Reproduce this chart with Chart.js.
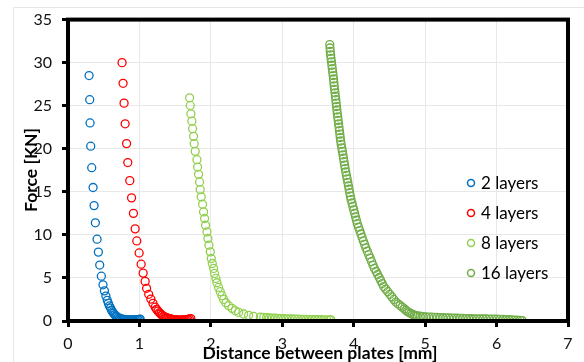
<!DOCTYPE html>
<html>
<head>
<meta charset="utf-8">
<script src="https://cdn.jsdelivr.net/npm/chart.js@4/dist/chart.umd.min.js"></script>
<style>
html,body{margin:0;padding:0;background:#fff;}
#wrap{position:relative;width:584px;height:362px;}
</style>
</head>
<body>
<div id="wrap"><canvas id="c" width="584" height="362"></canvas></div>
<script>
// ---- data ----
const seriesNames = ["2 layers", "4 layers", "8 layers", "16 layers"];
const seriesColors = ["#0070C0", "#FF0000", "#92D050", "#70AD47"];
const xTicks = [0, 1, 2, 3, 4, 5, 6, 7];
const yTicks = [0, 5, 10, 15, 20, 25, 30, 35];

const x2 = [0.295,0.304,0.309,0.318,0.332,0.351,0.365,0.383,0.407,0.425,0.444,0.467,0.49,0.51,0.53,0.55,0.565,0.58,0.595,0.61,0.625,0.64,0.655,0.67,0.685,0.70,0.72,0.74,0.76,0.78,0.80,0.82,0.84,0.86,0.88,0.90,0.92,0.94,0.96,0.98,1.00,1.01];
const y2 = [28.5,25.7,23.0,20.3,17.8,15.5,13.4,11.4,9.5,8.0,6.5,5.2,4.2,3.5,2.9,2.4,2.05,1.75,1.5,1.25,1.05,0.88,0.72,0.6,0.5,0.4,0.32,0.26,0.22,0.19,0.17,0.15,0.14,0.14,0.13,0.13,0.13,0.14,0.15,0.17,0.2,0.22];

const x4 = [0.757,0.771,0.785,0.80,0.82,0.837,0.865,0.89,0.916,0.94,0.963,0.996,1.024,1.052,1.08,1.10,1.13,1.16,1.19,1.22,1.24,1.26,1.28,1.30,1.32,1.34,1.36,1.38,1.40,1.42,1.44,1.46,1.48,1.50,1.52,1.54,1.56,1.58,1.60,1.62,1.64,1.66,1.68,1.70,1.72];
const y4 = [30.0,27.6,25.3,22.9,20.6,18.4,16.3,14.3,12.5,10.7,9.3,7.9,6.6,5.56,4.6,3.8,3.1,2.55,2.05,1.6,1.35,1.15,0.95,0.8,0.65,0.54,0.45,0.38,0.32,0.27,0.23,0.2,0.17,0.15,0.13,0.12,0.11,0.11,0.12,0.13,0.15,0.17,0.2,0.24,0.28];

const x8 = [1.702,1.711,1.720,1.734,1.744,1.758,1.767,1.781,1.805,1.814,1.828,1.842,1.851,1.865,1.884,1.898,1.912,1.926,1.945,1.959,1.973,1.992,2.006,2.020,2.038,2.052,2.071,2.085,2.108,2.132,2.155,2.179,2.211,2.249,2.296,2.342,2.389,2.459,2.529,2.599,2.693,2.74,2.78,2.82,2.86,2.90,2.94,2.98,3.02,3.06,3.10,3.14,3.18,3.22,3.26,3.30,3.34,3.38,3.42,3.46,3.50,3.54,3.58,3.62,3.66,3.68];
const y8 = [25.92,25.03,24.06,23.21,22.33,21.44,20.59,19.70,18.73,17.88,17.03,16.15,15.26,14.41,13.56,12.67,11.90,11.12,10.35,9.58,8.81,8.03,7.26,6.68,6.11,5.52,4.94,4.44,3.90,3.40,2.94,2.51,2.12,1.78,1.47,1.20,1.00,0.81,0.66,0.54,0.46,0.42,0.39,0.36,0.34,0.32,0.30,0.28,0.27,0.25,0.24,0.23,0.22,0.21,0.20,0.19,0.18,0.17,0.17,0.16,0.15,0.15,0.14,0.14,0.13,0.13];

const x16 = [3.665,3.668,3.672,3.677,3.682,3.688,3.694,3.700,3.706,3.712,3.718,
  3.722,3.727,3.733,3.738,3.743,3.749,3.754,3.759,3.765,3.770,
  3.776,3.782,3.788,3.794,3.800,3.806,3.811,3.817,
  3.825,3.833,3.841,3.849,3.857,3.865,3.873,3.881,3.889,
  3.899,3.908,3.917,3.926,3.935,3.944,3.953,3.962,
  3.976,3.988,4.000,4.013,4.025,4.038,4.050,
  4.067,4.084,4.101,4.118,4.135,4.152,4.169,
  4.190,4.210,4.230,4.250,4.270,4.290,
  4.314,4.335,4.357,4.378,4.399,4.420,
  4.448,4.477,4.505,4.533,4.562,4.590,
  4.62,4.65,4.68,4.71,4.73,4.75,
  4.775,4.80,4.825,4.85,4.87,4.89,
  4.93,4.97,5.01,5.05,5.09,5.13,5.17,5.21,5.25,5.29,5.33,5.37,5.41,5.45,5.49,5.53,5.57,5.61,5.65,5.69,5.73,5.77,5.81,5.85,5.89,5.93,5.97,6.01,6.05,6.09,6.13,6.17,6.21,6.25,6.29,6.33,6.36];
const y16 = [32.1,31.7,31.3,30.9,30.5,30.1,29.7,29.3,28.9,28.5,28.1,
  27.7,27.3,26.9,26.5,26.1,25.7,25.3,24.9,24.5,24.1,
  23.7,23.3,22.9,22.5,22.1,21.7,21.3,20.9,
  20.5,20.1,19.7,19.3,18.9,18.5,18.1,17.7,17.3,
  16.9,16.5,16.1,15.7,15.3,14.9,14.5,14.1,
  13.7,13.3,12.9,12.5,12.1,11.7,11.3,
  10.9,10.5,10.1,9.7,9.3,8.9,8.5,
  8.1,7.7,7.3,6.9,6.5,6.1,
  5.75,5.4,5.05,4.7,4.35,4.0,
  3.7,3.4,3.1,2.8,2.5,2.2,
  2.0,1.8,1.6,1.4,1.25,1.1,
  0.98,0.87,0.77,0.69,0.62,0.58,
  0.55,0.51,0.48,0.46,0.44,0.43,0.41,0.40,0.38,0.37,0.36,0.34,0.33,0.32,0.31,0.30,0.28,0.27,0.26,0.25,0.25,0.24,0.23,0.23,0.22,0.22,0.21,0.21,0.20,0.19,0.17,0.15,0.13,0.11,0.09,0.07,0.05];

const xTitle = "Distance between plates [mm]";
const yTitle = "Force [KN]";

// ---- build chart ----
const FONT = "Lato, 'Liberation Sans', sans-serif";
const seriesX = [x2, x4, x8, x16];
const seriesY = [y2, y4, y8, y16];
const datasets = seriesNames.map((name, i) => ({
  label: name,
  data: seriesX[i].map((x, j) => ({x: x, y: seriesY[i][j]})),
  showLine: false,
  pointStyle: 'circle',
  pointRadius: 4,
  pointHoverRadius: 4,
  borderWidth: 1.3,
  borderColor: seriesColors[i],
  backgroundColor: 'rgba(0,0,0,0)'
}));

const decor = {
  id: 'decor',
  beforeDraw(chart) {
    const ctx = chart.ctx;
    ctx.save();
    ctx.fillStyle = '#fff';
    ctx.fillRect(0, 0, chart.width, chart.height);
    ctx.strokeStyle = '#E6E6E6';
    ctx.lineWidth = 1;
    ctx.beginPath();
    ctx.moveTo(13.5, 400); ctx.lineTo(13.5, 7.5); ctx.lineTo(700, 7.5);
    ctx.stroke();
    ctx.restore();
  },
  afterDraw(chart) {
    const ctx = chart.ctx;
    const a = chart.chartArea;
    ctx.save();
    // frame
    ctx.strokeStyle = '#000';
    ctx.lineWidth = 4;
    ctx.strokeRect(a.left, a.top, a.right - a.left, a.bottom - a.top);
    // axis titles
    ctx.fillStyle = '#000';
    ctx.font = "bold 17.5px " + FONT;
    ctx.textAlign = 'center';
    ctx.textBaseline = 'middle';
    ctx.fillText(xTitle, 320, 353);
    ctx.translate(31, 170);
    ctx.rotate(-Math.PI / 2);
    ctx.fillText(yTitle, 0, 0);
    ctx.restore();
    // legend
    ctx.save();
    ctx.font = "17px " + FONT;
    ctx.textAlign = 'left';
    ctx.textBaseline = 'middle';
    chart.data.datasets.forEach((ds, i) => {
      const y = 183 + i * 30;
      ctx.beginPath();
      ctx.arc(471, y, 3.5, 0, Math.PI * 2);
      ctx.strokeStyle = ds.borderColor;
      ctx.lineWidth = 1.5;
      ctx.stroke();
      ctx.fillStyle = '#000';
      ctx.fillText(ds.label, 481, y + 1);
    });
    ctx.restore();
  }
};

new Chart(document.getElementById('c'), {
  type: 'scatter',
  data: { datasets: datasets },
  options: {
    responsive: false,
    animation: false,
    devicePixelRatio: 1,
    layout: { padding: { left: 12, right: 16, top: 19, bottom: 0 } },
    plugins: { legend: { display: false }, tooltip: { enabled: false } },
    scales: {
      x: {
        type: 'linear', min: 0, max: 7,
        afterBuildTicks(s) { s.ticks = xTicks.map(v => ({value: v})); },
        afterFit(s) { s.height = 41; },
        ticks: { color: '#111', font: { family: FONT, size: 16 }, padding: 7, maxRotation: 0 },
        grid: { color: '#E8E8E8', lineWidth: 1, tickColor: '#000', tickWidth: 3, tickLength: 6 },
        border: { display: false }
      },
      y: {
        type: 'linear', min: 0, max: 35,
        afterBuildTicks(s) { s.ticks = yTicks.map(v => ({value: v})); },
        afterFit(s) { s.width = 56; },
        ticks: { color: '#111', font: { family: FONT, size: 16 }, padding: 10 },
        grid: { color: '#E8E8E8', lineWidth: 1, tickColor: '#000', tickWidth: 3, tickLength: 6 },
        border: { display: false }
      }
    }
  },
  plugins: [decor]
});
</script>
</body>
</html>
